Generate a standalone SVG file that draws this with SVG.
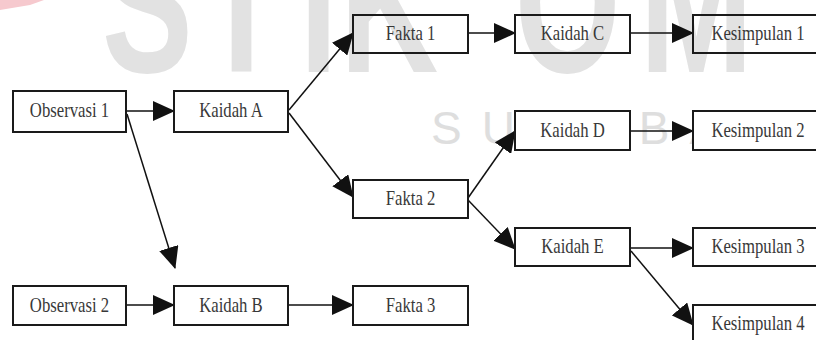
<svg xmlns="http://www.w3.org/2000/svg" width="816" height="340" viewBox="0 0 816 340">
  <defs>
    <marker id="head" viewBox="0 0 22 20" refX="21" refY="10" markerWidth="22" markerHeight="20" markerUnits="userSpaceOnUse" orient="auto">
      <path d="M0,0 L22,10 L0,20 z" fill="#111"/>
    </marker>
    <style>
      .box { fill: #ffffff; stroke: #1a1a1a; stroke-width: 2; }
      .open { fill: none; }
      .lbl { font-family: "Liberation Serif", "Times New Roman", serif; font-size: 16.7px; fill: #383838; text-anchor: middle; }
      .edge { stroke: #111; stroke-width: 1.5; fill: none; marker-end: url(#head); }
      .mark { font-family: "Liberation Sans", Arial, sans-serif; }
    </style>
  </defs>

  <rect width="816" height="340" fill="#ffffff"/>

  <!-- background logo lettering -->
  <g id="watermark">
    <polygon points="0,0 44,0 30,5 0,10" fill="#f6c9ce"/>
    <text class="mark" transform="scale(0.68,1)" x="150 294 441 500 757 941" y="72" font-size="200" font-weight="bold" fill="#e2e2e2">STIKOM</text>
    <text class="mark" x="431" y="144" font-size="46" letter-spacing="20" fill="#dedede">SURABAYA</text>
  </g>

  <g id="connectors">
    <path class="edge" d="M126,111 L174,111"/>
    <path class="edge" d="M127,114 L175,268"/>
    <path class="edge" d="M289,110 L353,33"/>
    <path class="edge" d="M289,113 L353,197"/>
    <path class="edge" d="M468,33 L515,33"/>
    <path class="edge" d="M630,33 L693,33"/>
    <path class="edge" d="M468,198 L515,131"/>
    <path class="edge" d="M630,131 L693,131"/>
    <path class="edge" d="M468,200 L515,249"/>
    <path class="edge" d="M630,248 L693,248"/>
    <path class="edge" d="M631,251 L693,325"/>
    <path class="edge" d="M126,305 L174,305"/>
    <path class="edge" d="M288,305 L353,305"/>
  </g>

  <g id="observasi1">
    <rect class="box" x="13" y="91" width="113" height="41"/>
    <text class="lbl" transform="translate(69.5,117) scale(1,1.27)">Observasi 1</text>
  </g>
  <g id="kaidahA">
    <rect class="box" x="174" y="91" width="114" height="41"/>
    <text class="lbl" transform="translate(231,117) scale(1,1.27)">Kaidah A</text>
  </g>
  <g id="fakta1">
    <rect class="box open" x="353" y="15" width="115" height="38"/>
    <text class="lbl" transform="translate(410.5,40) scale(1,1.27)">Fakta 1</text>
  </g>
  <g id="kaidahC">
    <rect class="box open" x="515" y="15" width="115" height="38"/>
    <text class="lbl" transform="translate(572.5,40) scale(1,1.27)">Kaidah C</text>
  </g>
  <g id="kesimpulan1">
    <rect class="box open" x="693" y="15" width="130" height="38"/>
    <text class="lbl" transform="translate(758,40) scale(1,1.27)">Kesimpulan 1</text>
  </g>
  <g id="kaidahD">
    <rect class="box" x="515" y="111" width="115" height="39"/>
    <text class="lbl" transform="translate(572.5,136.5) scale(1,1.27)">Kaidah D</text>
  </g>
  <g id="kesimpulan2">
    <rect class="box" x="693" y="111" width="130" height="39"/>
    <text class="lbl" transform="translate(758,136.5) scale(1,1.27)">Kesimpulan 2</text>
  </g>
  <g id="fakta2">
    <rect class="box" x="353" y="180" width="115" height="38"/>
    <text class="lbl" transform="translate(410.5,205) scale(1,1.27)">Fakta 2</text>
  </g>
  <g id="kaidahE">
    <rect class="box" x="515" y="228" width="115" height="38"/>
    <text class="lbl" transform="translate(572.5,253) scale(1,1.27)">Kaidah E</text>
  </g>
  <g id="kesimpulan3">
    <rect class="box" x="693" y="228" width="130" height="38"/>
    <text class="lbl" transform="translate(758,253) scale(1,1.27)">Kesimpulan 3</text>
  </g>
  <g id="kesimpulan4">
    <rect class="box" x="693" y="305" width="130" height="38"/>
    <text class="lbl" transform="translate(758,330) scale(1,1.27)">Kesimpulan 4</text>
  </g>
  <g id="observasi2">
    <rect class="box" x="13" y="286" width="113" height="39"/>
    <text class="lbl" transform="translate(69.5,311.5) scale(1,1.27)">Observasi 2</text>
  </g>
  <g id="kaidahB">
    <rect class="box" x="174" y="286" width="114" height="39"/>
    <text class="lbl" transform="translate(231,311.5) scale(1,1.27)">Kaidah B</text>
  </g>
  <g id="fakta3">
    <rect class="box" x="353" y="286" width="115" height="39"/>
    <text class="lbl" transform="translate(410.5,311.5) scale(1,1.27)">Fakta 3</text>
  </g>
</svg>
